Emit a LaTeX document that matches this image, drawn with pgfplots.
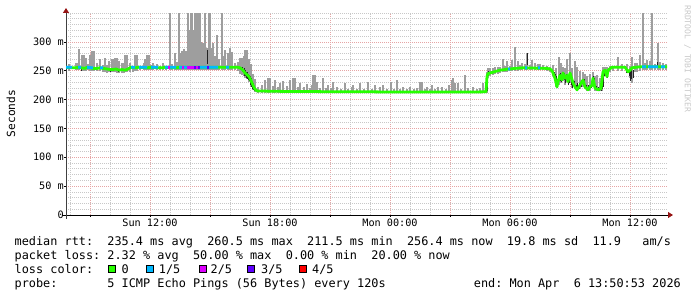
\documentclass[border=0pt]{standalone}
\usepackage{pgfplots}
\pgfplotsset{compat=1.18}
\usepackage{pgfplotstable}
\usetikzlibrary{arrows.meta}
\usepackage{fontspec}
\newfontfamily\mono{DejaVu Sans Mono}
\definecolor{c0}{RGB}{38,255,0}
\definecolor{c1}{RGB}{0,184,255}
\definecolor{c2}{RGB}{221,0,255}
\definecolor{c3}{RGB}{94,0,255}
\definecolor{c4}{RGB}{255,0,0}
\definecolor{smoke}{RGB}{158,158,158}
\definecolor{smokedark}{RGB}{35,35,35}
\definecolor{gridminor}{RGB}{200,200,200}
\definecolor{gridmajor}{RGB}{230,165,165}
\definecolor{arrowred}{RGB}{150,20,20}
\definecolor{wm}{RGB}{200,200,200}
\newcommand\legfont{\mono\fontsize{11.85}{14}\selectfont}
\newcommand\tickfont{\mono\fontsize{10.2}{12}\selectfont}

\pgfplotstableread{
h v
7.80 256
8.10 255
8.30 255
8.40 256
8.55 255
8.75 254
8.85 256
9.15 254
9.35 254
9.50 255
9.65 254
9.85 253
10.00 252
10.15 252
10.30 253
10.45 251
10.60 252
10.75 251
10.90 253
11.05 256
11.25 255
11.45 256
11.85 255
12.05 256
12.40 255
12.60 255
12.75 256
13.30 255
13.45 256
16.40 256
16.50 255
16.65 251
16.75 246
16.85 243
16.95 240
17.05 233
17.15 225
17.25 218
17.35 215
18.00 214.5
19.00 214
20.00 214
21.00 213.5
22.00 213.5
23.00 213.5
24.00 213
25.00 213
26.00 213
27.00 213
28.00 213
28.80 213.5
28.85 240
28.90 245
29.10 247
29.30 249
29.50 251
29.75 252
29.90 253
30.00 253
30.25 254
30.65 255
31.85 254
32.00 253
32.10 250
32.15 246
32.25 237
32.35 222
32.40 231
32.50 242
32.60 234
32.65 246
32.75 237
32.85 242
32.90 231
33.00 246
33.15 229
33.25 222
33.35 217
33.50 225
33.65 234
33.75 222
33.90 217
34.00 222
34.10 225
34.15 237
34.25 220
34.40 217
34.55 219
34.65 248
34.75 251
34.85 240
34.90 251
35.10 256
35.75 256
35.85 251
35.90 248
36.00 251
36.10 255
36.30 256
36.60 257
37.85 257
}\median

% loss 1/5 segments (nan separates segments)
\pgfplotstableread{
h v
7.80 256
8.10 256
nan nan
8.40 256
8.55 256
nan nan
8.85 256
9.15 255
nan nan
9.50 255
9.65 255
nan nan
11.05 256
11.25 256
nan nan
11.45 256
11.85 256
nan nan
12.05 256
12.40 256
nan nan
12.75 256
13.30 256
nan nan
13.45 256
15.40 256
nan nan
15.80 256
15.95 256
nan nan
29.90 253
30.00 253
nan nan
30.75 255
30.85 255
nan nan
31.40 255
31.50 255
nan nan
36.60 257
36.80 257
nan nan
36.90 257
37.40 257
nan nan
37.55 257
37.75 257
}\lossone

\pgfplotstableread{
h v
12.90 256
13.00 256
nan nan
13.60 256
13.70 256
nan nan
13.85 256
14.20 256
nan nan
14.30 256
14.40 256
}\losstwo

\pgfplotstableread{
h v
14.20 256
14.30 256
nan nan
14.40 256
14.50 256
nan nan
14.85 256
14.95 256
}\lossthree

\pgfplotstableread{
h lo hi
7.95 250 262
8.30 251 263
8.35 251 263
8.45 251 287
8.60 250 278
8.70 250 278
8.80 250 272
8.90 252 262
9.00 250 277
9.10 250 284
9.20 250 284
9.35 250 263
9.50 249 270
9.65 248 260
9.75 247 272
9.85 246 260
9.95 247 267
10.10 247 270
10.20 247 270
10.25 247 272
10.35 246 272
10.45 246 266
10.60 246 263
10.70 246 263
10.75 247 277
10.85 247 277
11.00 248 264
11.15 248 258
11.25 250 277
11.35 250 277
11.50 251 259
11.70 251 263
11.75 251 270
11.85 251 277
11.95 251 277
12.05 252 260
12.15 252 263
12.35 252 261
12.50 252 258
12.65 252 263
12.80 252 258
13.00 252 350
13.10 252 262
13.25 252 281
13.35 252 265
13.45 252 350
13.50 252 280
13.60 252 285
13.70 252 288
13.80 252 285
13.90 252 350
13.95 252 309
14.00 252 320
14.05 252 350
14.10 252 350
14.15 252 320
14.25 252 350
14.30 252 350
14.35 252 350
14.40 252 300
14.45 252 350
14.50 252 350
14.55 252 300
14.60 252 298
14.65 252 298
14.75 252 350
14.85 252 289
14.90 252 289
14.95 252 350
15.00 252 350
15.10 252 290
15.15 252 298
15.25 252 275
15.35 252 312
15.45 252 270
15.60 252 350
15.70 252 275
15.75 252 286
15.90 252 280
16.00 252 290
16.10 252 283
16.25 252 263
16.40 250 265
16.50 245 272
16.60 243 272
16.70 240 275
16.75 238 286
16.85 236 286
16.95 230 270
17.05 222 262
17.15 216 245
17.25 213 235
17.40 212 222
17.60 212 226
17.75 212 234
17.90 212 237
18.00 212 237
18.15 212 224
18.25 212 234
18.40 212 222
18.50 212 229
18.65 212 232
18.85 212 224
19.00 212 234
19.15 212 237
19.25 212 237
19.40 212 222
19.50 212 229
19.70 212 222
19.85 212 227
20.00 212 220
20.10 212 225
20.15 212 242
20.25 212 242
20.35 212 231
20.50 212 220
20.65 212 237
20.80 212 220
20.90 212 225
21.05 212 220
21.15 212 231
21.35 212 222
21.55 212 218
21.75 212 228
21.90 212 219
22.10 212 222
22.15 212 225
22.35 212 218
22.50 212 229
22.70 212 219
22.90 212 231
23.10 212 218
23.25 212 225
23.50 212 222
23.65 212 225
23.85 212 218
24.05 212 231
24.20 212 219
24.35 212 234
24.50 212 219
24.65 212 222
24.85 212 218
25.00 212 222
25.20 212 219
25.35 212 220
25.50 212 231
25.60 212 231
25.75 212 218
25.85 212 222
26.00 212 219
26.10 212 225
26.25 212 219
26.40 212 222
26.60 212 222
26.80 212 219
26.95 212 226
27.10 212 234
27.15 212 237
27.25 212 229
27.40 212 228
27.55 212 219
27.75 212 242
27.90 212 220
28.15 212 222
28.35 212 219
28.50 212 220
28.65 212 228
28.80 212 228
28.85 212 248
28.90 238 254
29.00 240 254
29.15 242 254
29.25 244 257
29.40 245 257
29.50 246 256
29.65 247 271
29.75 248 259
29.85 248 266
30.00 249 258
30.10 249 268
30.25 250 291
30.40 250 266
30.50 251 260
30.60 251 264
30.75 251 262
30.85 251 280
31.00 252 260
31.10 252 268
31.25 252 263
31.40 252 262
31.50 252 262
31.65 252 260
31.85 250 258
32.00 248 257
32.15 240 260
32.30 222 255
32.45 225 274
32.55 228 264
32.65 232 257
32.75 225 255
32.85 230 271
33.00 228 280
33.10 220 255
33.25 218 266
33.35 215 257
33.50 218 250
33.65 222 248
33.75 218 245
33.85 215 240
34.00 215 244
34.15 222 248
34.25 215 240
34.35 214 242
34.50 214 237
34.60 215 235
34.65 235 257
34.75 240 257
34.85 238 257
35.00 248 259
35.15 250 259
35.40 250 274
35.60 250 262
35.85 246 262
36.00 237 258
36.10 229 274
36.25 248 263
36.35 248 263
36.50 250 277
36.65 252 350
36.75 252 263
36.85 252 268
37.00 252 266
37.10 252 350
37.25 252 262
37.40 252 298
37.50 252 265
37.65 252 263
37.80 252 262
}\smoke

\pgfplotstableread{
h lo hi
8.55 250 256
10.00 248 254
10.40 247 253
14.85 262 286
16.60 248 256
16.70 240 254
16.75 240 252
16.80 238 248
16.85 236 248
16.90 234 244
16.95 232 242
17.00 226 240
17.05 222 238
17.10 218 232
17.15 216 228
17.20 214 224
28.85 214 245
28.90 240 250
30.85 260 280
32.20 236 248
32.25 230 245
32.30 222 240
32.35 220 235
32.40 228 240
32.45 232 244
32.50 232 246
32.55 230 240
32.60 232 246
32.70 234 246
32.75 228 242
32.80 236 244
32.90 225 240
32.95 228 246
33.05 226 240
33.10 220 238
33.20 220 232
33.30 216 226
33.35 214 228
33.45 218 228
33.55 222 234
33.65 224 236
33.70 222 236
33.80 216 226
33.90 215 225
33.95 216 224
34.05 220 228
34.15 228 240
34.20 220 238
34.30 216 224
34.40 214 222
34.45 214 220
34.55 215 222
34.60 218 240
34.65 222 250
34.70 240 252
34.85 238 250
35.80 246 254
35.95 240 252
36.00 232 250
36.05 236 254
36.15 238 252
37.35 255 265
}\smokedark

\begin{document}
\begin{tikzpicture}[x=1pt,y=1pt]
\useasboundingbox (0,0) rectangle (697,297);
\begin{axis}[
  at={(66pt,82pt)}, anchor=south west,
  scale only axis, width=601pt, height=202pt,
  xmin=7.8, xmax=37.85, ymin=0, ymax=350,
  axis lines=left,
  x axis line style={black, line width=0.8pt, shorten <=-4pt, shorten >=-6pt,
     -{Triangle[length=5pt,width=6pt,color=arrowred,fill=arrowred]}},
  y axis line style={black!75, line width=0.8pt, shorten <=-4pt, shorten >=-5pt,
     -{Triangle[length=5pt,width=6pt,color=arrowred,fill=arrowred]}},
  xtick={9,12,15,18,21,24,27,30,33,36},
  xticklabels={,Sun 12:00,,Sun 18:00,,Mon 00:00,,Mon 06:00,,Mon 12:00},
  minor xtick={8,10,11,13,14,16,17,19,20,22,23,25,26,28,29,31,32,34,35,37},
  ytick={0,50,100,150,200,250,300},
  yticklabels={0,50 m,100 m,150 m,200 m,250 m,300 m},
  minor ytick={10,20,30,40,60,70,80,90,110,120,130,140,160,170,180,190,210,220,230,240,260,270,280,290,310,320,330,340,350},
  grid=both,
  major grid style={draw=gridmajor, line width=0.7pt, dash pattern=on 1pt off 1pt},
  minor grid style={draw=gridminor, line width=0.7pt, dash pattern=on 1pt off 1pt},
  tick align=outside, major tick length=2pt, minor tick length=0pt,
  tick style={black, line width=0.6pt},
  ticklabel style={font=\tickfont, text=black},
  xticklabel style={anchor=base, inner sep=0pt, yshift=-10pt},
  yticklabel style={anchor=east, inner sep=0pt},
  unbounded coords=jump,
  clip=true,
]
\addplot[draw=none, no markers, forget plot,
  error bars/.cd, y dir=plus, y explicit, error mark=none,
  error bar style={solid, draw=smoke, line width=1.5pt}]
  table[x=h, y=lo, y error expr=\thisrow{hi}-\thisrow{lo}] {\smoke};
\addplot[draw=none, no markers, forget plot,
  error bars/.cd, y dir=plus, y explicit, error mark=none,
  error bar style={solid, draw=smokedark, line width=1pt}]
  table[x=h, y=lo, y error expr=\thisrow{hi}-\thisrow{lo}] {\smokedark};
\addplot[c0, line width=2.8pt, no markers, line join=round] table[x=h, y=v] {\median};
\addplot[c1, line width=2.8pt, no markers] table[x=h, y=v] {\lossone};
\addplot[c2, line width=2.8pt, no markers] table[x=h, y=v] {\losstwo};
\addplot[c3, line width=2.8pt, no markers] table[x=h, y=v] {\lossthree};
\end{axis}
\node[anchor=center, rotate=90, inner sep=0, font=\mono\fontsize{11.2}{13}\selectfont] at (11,183.5) {Seconds};
\node[anchor=center, rotate=-90, inner sep=0, text=wm, font=\mono\fontsize{8.1}{10}\selectfont] at (687.5,238) {RRDTOOL~/~TOBI~OETIKER};
\node[anchor=base west, inner sep=0, font=\legfont] at (14.5,51.7) {median~rtt:~~235.4~ms~avg~~260.5~ms~max~~211.5~ms~min~~256.4~ms~now~~19.8~ms~sd~~11.9~~~am/s};
\node[anchor=base west, inner sep=0, font=\legfont] at (14.5,37.5) {packet~loss:~2.32~\%~avg~~50.00~\%~max~~0.00~\%~min~~20.00~\%~now};
\node[anchor=base west, inner sep=0, font=\legfont] at (14.5,23.4) {loss~color:};
\filldraw[fill=c0, draw=black, line width=0.8] (108.5,24.5) rectangle +(7,7);
\filldraw[fill=c1, draw=black, line width=0.8] (146,24.5) rectangle +(7,7);
\filldraw[fill=c2, draw=black, line width=0.8] (199,24.5) rectangle +(7,7);
\filldraw[fill=c3, draw=black, line width=0.8] (247,24.5) rectangle +(7,7);
\filldraw[fill=c4, draw=black, line width=0.8] (299,24.5) rectangle +(7,7);
\node[anchor=base west, inner sep=0, font=\legfont] at (121.5,23.4) {0};
\node[anchor=base west, inner sep=0, font=\legfont] at (158.7,23.4) {1/5};
\node[anchor=base west, inner sep=0, font=\legfont] at (210.5,23.4) {2/5};
\node[anchor=base west, inner sep=0, font=\legfont] at (261,23.4) {3/5};
\node[anchor=base west, inner sep=0, font=\legfont] at (312,23.4) {4/5};
\node[anchor=base west, inner sep=0, font=\legfont] at (14.5,9.2) {probe:~~~~~~~5~ICMP~Echo~Pings~(56~Bytes)~every~120s};
\node[anchor=base east, inner sep=0, font=\legfont] at (681,9.2) {end:~Mon~Apr~~6~13:50:53~2026};
\end{tikzpicture}
\end{document}
